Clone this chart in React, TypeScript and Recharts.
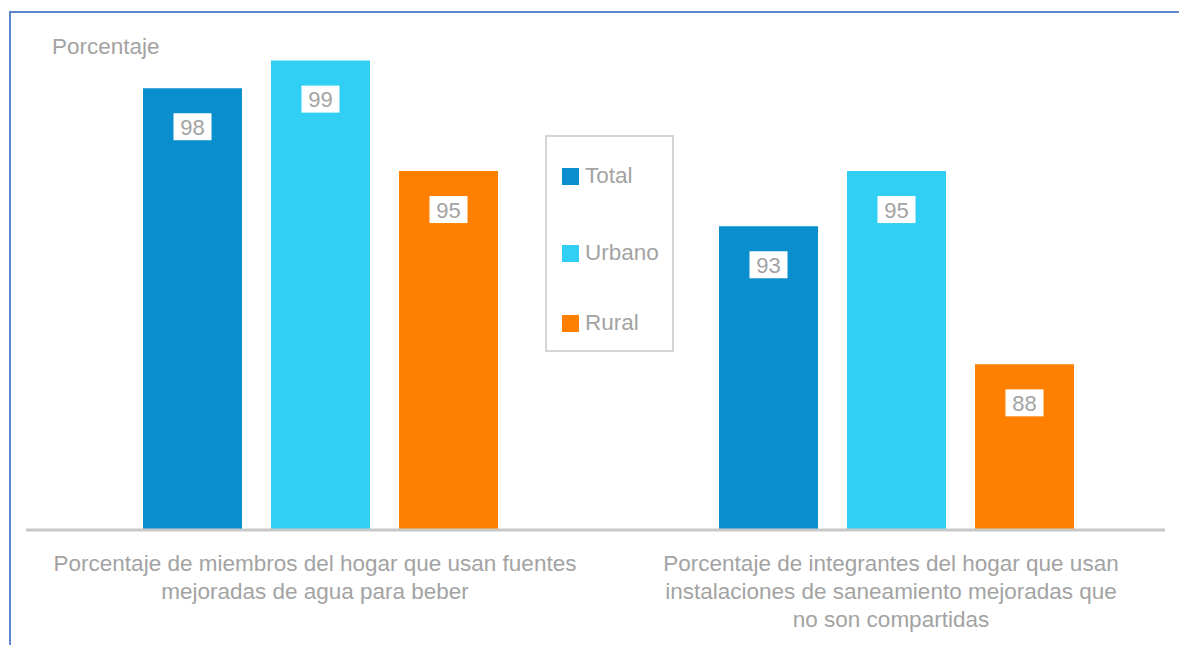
import { BarChart, Bar, XAxis, YAxis, Legend, LabelList } from 'recharts'

// 資料：兩個指標 × 三個地區
const categories = [
  'Porcentaje de miembros del hogar que usan fuentes|mejoradas de agua para beber',
  'Porcentaje de integrantes del hogar que usan|instalaciones de saneamiento mejoradas que|no son compartidas',
]
const totalValues = [98, 93]
const urbanoValues = [99, 95]
const ruralValues = [95, 88]

const seriesNames = ['Total', 'Urbano', 'Rural']
const seriesColors = ['#0a8fce', '#31cff4', '#ff8000']

const data = categories.map((c, i) => ({
  name: c,
  Total: totalValues[i],
  Urbano: urbanoValues[i],
  Rural: ruralValues[i],
}))

const FONT = '"Liberation Sans", Arial, Helvetica, sans-serif'
const TEXT_GRAY = '#a3a3a3'

// 類別標籤（多行，以 | 分隔；原圖文字略偏左）
const CategoryTick = (props: any) => {
  const { x, y, payload } = props
  const lines = String(payload.value).split('|')
  const tx = x - 5
  return (
    <text x={tx} y={y} textAnchor="middle" fill={TEXT_GRAY} fontSize={22.5} fontFamily={FONT}>
      {lines.map((l, i) => (
        <tspan key={i} x={tx} dy={i === 0 ? 33 : 28}>{l}</tspan>
      ))}
    </text>
  )
}

// 柱內數值：白底方框 + 灰字
const ValueBox = (props: any) => {
  const { x, y, width, value } = props
  const cx = x + width / 2
  const cy = y + 38.5
  return (
    <g>
      <rect x={cx - 19} y={cy - 13.5} width={38} height={27} fill="#ffffff" />
      <text x={cx} y={cy + 8} textAnchor="middle" fill={TEXT_GRAY} fontSize={22} fontFamily={FONT}>
        {value}
      </text>
    </g>
  )
}

const LegendBox = () => (
  <div style={{
    boxSizing: 'border-box',
    width: 129,
    height: 217,
    border: '2px solid #d4d4d4',
    position: 'relative',
    fontFamily: FONT,
  }}>
    {seriesNames.map((n, i) => (
      <div key={n} style={{
        position: 'absolute',
        left: 15,
        top: [26, 103, 173][i],
        display: 'flex',
        alignItems: 'center',
        fontSize: 22.5,
        color: TEXT_GRAY,
      }}>
        <span style={{ width: 17, height: 17, background: seriesColors[i], display: 'inline-block', marginRight: 6 }} />
        {n}
      </div>
    ))}
  </div>
)

export default function App() {
  return (
    <div style={{ position: 'absolute', left: 0, top: 0, width: 1179, height: 645, background: '#fff' }}>
      {/* 外框（上、左藍線） */}
      <div style={{
        position: 'absolute', left: 9, top: 11, width: 1200, height: 700,
        borderTop: '2px solid #5b88cc', borderLeft: '2px solid #5b88cc',
      }} />
      <div style={{
        position: 'absolute', left: 52, top: 34, fontSize: 22.5, color: TEXT_GRAY, fontFamily: FONT,
      }}>
        Porcentaje
      </div>
      <div style={{ position: 'absolute', left: 0, top: 0 }}>
        <BarChart
          width={1179}
          height={645}
          data={data}
          margin={{ top: 33, right: 14, left: 26, bottom: 0 }}
          barSize={99}
          barGap={29}
        >
          <XAxis
            dataKey="name"
            height={115}
            tickLine={false}
            axisLine={{ stroke: '#c8c8c8', strokeWidth: 3 }}
            tick={<CategoryTick />}
            interval={0}
            padding={{ left: 6, right: -19 }}
          />
          <YAxis hide domain={[82, 100]} allowDataOverflow />
          <Legend
            layout="vertical"
            align="center"
            verticalAlign="middle"
            content={<LegendBox />}
            wrapperStyle={{ left: 545, top: 135, width: 129, height: 217 }}
          />
          {seriesNames.map((n, i) => (
            <Bar key={n} dataKey={n} fill={seriesColors[i]} isAnimationActive={false}>
              <LabelList dataKey={n} content={<ValueBox />} />
            </Bar>
          ))}
        </BarChart>
      </div>
    </div>
  )
}
